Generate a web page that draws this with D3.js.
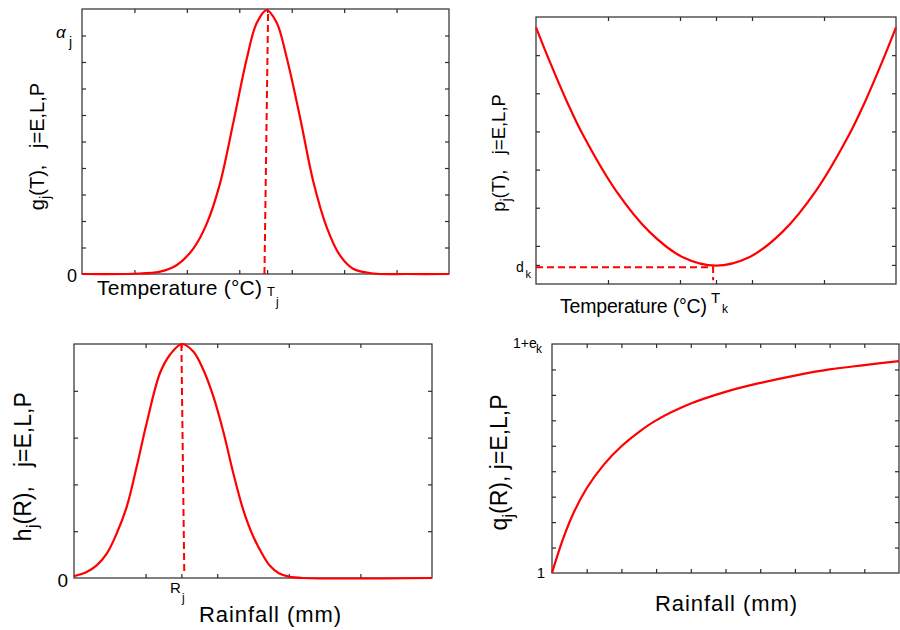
<!DOCTYPE html>
<html>
<head>
<meta charset="utf-8">
<script src="https://cdn.jsdelivr.net/npm/d3@7"></script>
<style>
  html, body { margin: 0; padding: 0; background: #fff; }
  svg text { font-family: "Liberation Sans", Arial, Helvetica, sans-serif; fill: #000; }
</style>
</head>
<body>
<div id="chart"></div>
<script>
// Four response-function sketches (temperature / rainfall), red curves on framed panels.

// --- panel 1: g_j(T), bell curve over temperature
const p1Temp = [0, 0.97, 1.49, 1.81, 2.12, 2.38, 2.63, 2.89, 3.14, 3.33, 3.52, 3.71, 3.90, 4.16, 4.41, 4.67, 4.92, 5.17, 5.56, 6.2, 7];
const p1G    = [0, 0.01, 0.09, 0.34, 0.95, 1.9, 3.4, 5.75, 8.1, 9.46, 9.96, 9.5, 8.2, 5.9, 3.5, 1.75, 0.7, 0.2, 0.02, 0, 0];
const p1XTicks = [1, 2, 3, 3.53, 4, 5, 6];
const p1YTicks = [1, 2, 3, 4, 5, 6, 7, 8, 9];
const p1DashX = [3.48, 3.55];
const p1DashY = [0, 9.96];

// --- panel 2: p_j(T), U-shaped curve over temperature
const p2Temp = [0, 0.2, 0.43, 0.65, 1.11, 1.58, 2.04, 2.5, 2.96, 3.42, 3.89, 4.35, 4.57, 4.8, 5];
const p2P    = [6.73, 5.79, 4.78, 3.92, 2.45, 1.36, 0.7, 0.48, 0.7, 1.36, 2.45, 3.92, 4.78, 5.79, 6.73];
const p2XTicks = [1, 2, 2.5, 3, 4];
const p2YTicks = [0.5, 1, 2, 3, 4, 5, 6];
const p2DashX = [0, 2.46, 2.46];
const p2DashY = [0.44, 0.44, 0.1];

// --- panel 3: h_j(R), bell curve over rainfall
const p3Rain = [0, 0.177, 0.317, 0.457, 0.596, 0.736, 0.876, 1.015, 1.201, 1.341, 1.505, 1.666, 1.806, 1.946, 2.085, 2.225, 2.365, 2.505, 2.645, 2.737, 2.86, 3.0, 3.2, 5];
const p3H    = [0.04, 0.13, 0.27, 0.52, 0.95, 1.52, 2.38, 3.31, 4.38, 4.77, 5.0, 4.84, 4.45, 3.88, 3.13, 2.24, 1.45, 0.88, 0.47, 0.26, 0.1, 0.03, 0, 0];
const p3XTicks = [1, 1.5, 2, 3, 4];
const p3YTicks = [1, 2, 3, 4];
const p3DashX = [1.5, 1.54];
const p3DashY = [5, 0.13];

// --- panel 4: q_j(R), saturating curve over rainfall
const p4Rain = [0, 0.3, 0.6, 1, 1.5, 2, 2.5, 3, 4, 5, 6, 7, 8, 9, 10];
const p4Q    = [0, 1.27, 2.3, 3.33, 4.27, 4.98, 5.54, 6.0, 6.66, 7.12, 7.47, 7.76, 8.0, 8.17, 8.33];
const p4XTicks = [1, 2, 3, 4, 5, 6, 7, 8, 9];
const p4YTicks = [1, 2, 3, 4, 5, 6, 7, 8];

const RED = "#ff0000";
const FRAME = "#2b2b2b";

const svg = d3.select("#chart").append("svg")
  .attr("width", 900)
  .attr("height", 630);

// Framed panel with inward ticks on all four sides
function panel({ box, xDomain, yDomain, xTicks, yTicks }) {
  const x = d3.scaleLinear().domain(xDomain).range([box.left, box.right]);
  const y = d3.scaleLinear().domain(yDomain).range([box.bottom, box.top]);
  const g = svg.append("g");

  const sides = [
    [d3.axisBottom(x).tickValues(xTicks), `translate(0,${box.bottom})`],
    [d3.axisTop(x).tickValues(xTicks), `translate(0,${box.top})`],
    [d3.axisLeft(y).tickValues(yTicks), `translate(${box.left},0)`],
    [d3.axisRight(y).tickValues(yTicks), `translate(${box.right},0)`],
  ];
  sides.forEach(([axis, tr]) => {
    const a = g.append("g").attr("transform", tr)
      .call(axis.tickSize(-4).tickSizeOuter(0).tickFormat(""));
    a.select(".domain").remove();
    a.selectAll("line").attr("stroke", FRAME).attr("stroke-width", 1.2);
  });

  g.append("rect")
    .attr("x", box.left).attr("y", box.top)
    .attr("width", box.right - box.left).attr("height", box.bottom - box.top)
    .attr("fill", "none").attr("stroke", FRAME).attr("stroke-width", 1.2);

  return { g, x, y };
}

function curve(p, xs, ys) {
  const line = d3.line()
    .x((d, i) => p.x(xs[i]))
    .y((d, i) => Math.min(p.y(ys[i]), p.y.range()[0]))
    .curve(d3.curveCatmullRom.alpha(0.5));
  p.g.append("path")
    .attr("d", line(xs))
    .attr("fill", "none")
    .attr("stroke", RED)
    .attr("stroke-width", 2.2);
}

function dashed(p, xs, ys) {
  const line = d3.line().x((d, i) => p.x(xs[i])).y((d, i) => p.y(ys[i]));
  p.g.append("path")
    .attr("d", line(xs))
    .attr("fill", "none")
    .attr("stroke", RED)
    .attr("stroke-width", 2)
    .attr("stroke-dasharray", "7,4");
}

// text with a subscript: main text then a smaller, lowered tspan, then the rest
function subText(parent, { size, main, sub, rest = "", subScale = 0.75, shift = 0.3, anchor = "start", transform }) {
  const t = parent.append("text")
    .attr("font-size", size)
    .attr("text-anchor", anchor)
    .attr("transform", transform);
  t.append("tspan").text(main);
  t.append("tspan").attr("font-size", size * subScale).attr("dy", size * shift).text(sub);
  if (rest) t.append("tspan").attr("dy", -size * shift).text(rest);
  return t;
}

const SP3 = "\u00a0\u00a0\u00a0";

// ---------- panel 1 ----------
const p1 = panel({
  box: { left: 82, right: 449, top: 9, bottom: 274 },
  xDomain: [0, 7], yDomain: [0, 10],
  xTicks: p1XTicks, yTicks: p1YTicks,
});
curve(p1, p1Temp, p1G);
dashed(p1, p1DashX, p1DashY);

svg.append("text").attr("x", 77).attr("y", 282).attr("text-anchor", "end")
  .attr("font-size", 18).text("0");
svg.append("text").attr("x", 56).attr("y", 37.5)
  .attr("font-family", "'Liberation Serif', 'DejaVu Serif', serif")
  .attr("font-style", "italic").attr("font-size", 17).text("\u03b1");
svg.append("text").attr("x", 69).attr("y", 46.5).attr("font-size", 14).text("j");
svg.append("text").attr("x", 97).attr("y", 295).attr("font-size", 21)
  .attr("textLength", 165).attr("lengthAdjust", "spacing").text("Temperature (\u00b0C)");
svg.append("text").attr("x", 267).attr("y", 296).attr("font-size", 13).text("T");
svg.append("text").attr("x", 276).attr("y", 305.5).attr("font-size", 12).text("j");
subText(svg, {
  size: 20, main: "g", sub: "j", rest: "(T)," + SP3 + "j=E,L,P",
  anchor: "middle", transform: "translate(44,146.5) rotate(-90)",
});

// ---------- panel 2 ----------
const p2 = panel({
  box: { left: 536, right: 896, top: 17, bottom: 284 },
  xDomain: [0, 5], yDomain: [0, 7],
  xTicks: p2XTicks, yTicks: p2YTicks,
});
curve(p2, p2Temp, p2P);
dashed(p2, p2DashX, p2DashY);

svg.append("text").attr("x", 516).attr("y", 272).attr("font-size", 14).text("d");
svg.append("text").attr("x", 525.5).attr("y", 277.5).attr("font-size", 11).text("k");
svg.append("text").attr("x", 560).attr("y", 313).attr("font-size", 19.5)
  .attr("textLength", 147).attr("lengthAdjust", "spacing").text("Temperature (\u00b0C)");
svg.append("text").attr("x", 711).attr("y", 303).attr("font-size", 15).text("T");
svg.append("text").attr("x", 722).attr("y", 313).attr("font-size", 12).text("k");
subText(svg, {
  size: 18.5, main: "p", sub: "j", rest: "(T)," + SP3 + "j=E,L,P",
  anchor: "middle", transform: "translate(505,153) rotate(-90)",
});

// ---------- panel 3 ----------
const p3 = panel({
  box: { left: 74, right: 432, top: 344, bottom: 578 },
  xDomain: [0, 5], yDomain: [0, 5],
  xTicks: p3XTicks, yTicks: p3YTicks,
});
curve(p3, p3Rain, p3H);
dashed(p3, p3DashX, p3DashY);

svg.append("text").attr("x", 68).attr("y", 587).attr("text-anchor", "end")
  .attr("font-size", 19).text("0");
svg.append("text").attr("x", 170).attr("y", 593).attr("font-size", 15).text("R");
svg.append("text").attr("x", 182).attr("y", 602).attr("font-size", 12).text("j");
svg.append("text").attr("x", 199).attr("y", 621.5).attr("font-size", 22)
  .attr("textLength", 142).attr("lengthAdjust", "spacing").text("Rainfall (mm)");
subText(svg, {
  size: 23, main: "h", sub: "j", rest: "(R)," + SP3 + "j=E,L,P",
  anchor: "middle", transform: "translate(31,466.7) rotate(-90)",
});

// ---------- panel 4 ----------
const p4 = panel({
  box: { left: 552, right: 899, top: 344, bottom: 573 },
  xDomain: [0, 10], yDomain: [0, 9],
  xTicks: p4XTicks, yTicks: p4YTicks,
});
curve(p4, p4Rain, p4Q);

svg.append("text").attr("x", 545).attr("y", 578).attr("text-anchor", "end")
  .attr("font-size", 15).text("1");
svg.append("text").attr("x", 513).attr("y", 347.5).attr("font-size", 14).text("1+e");
svg.append("text").attr("x", 536).attr("y", 353).attr("font-size", 12).text("k");
svg.append("text").attr("x", 655).attr("y", 610.5).attr("font-size", 22)
  .attr("textLength", 142).attr("lengthAdjust", "spacing").text("Rainfall (mm)");
subText(svg, {
  size: 23, main: "q", sub: "j", rest: "(R), j=E,L,P",
  anchor: "middle", transform: "translate(507,462.5) rotate(-90)",
});
</script>
</body>
</html>
